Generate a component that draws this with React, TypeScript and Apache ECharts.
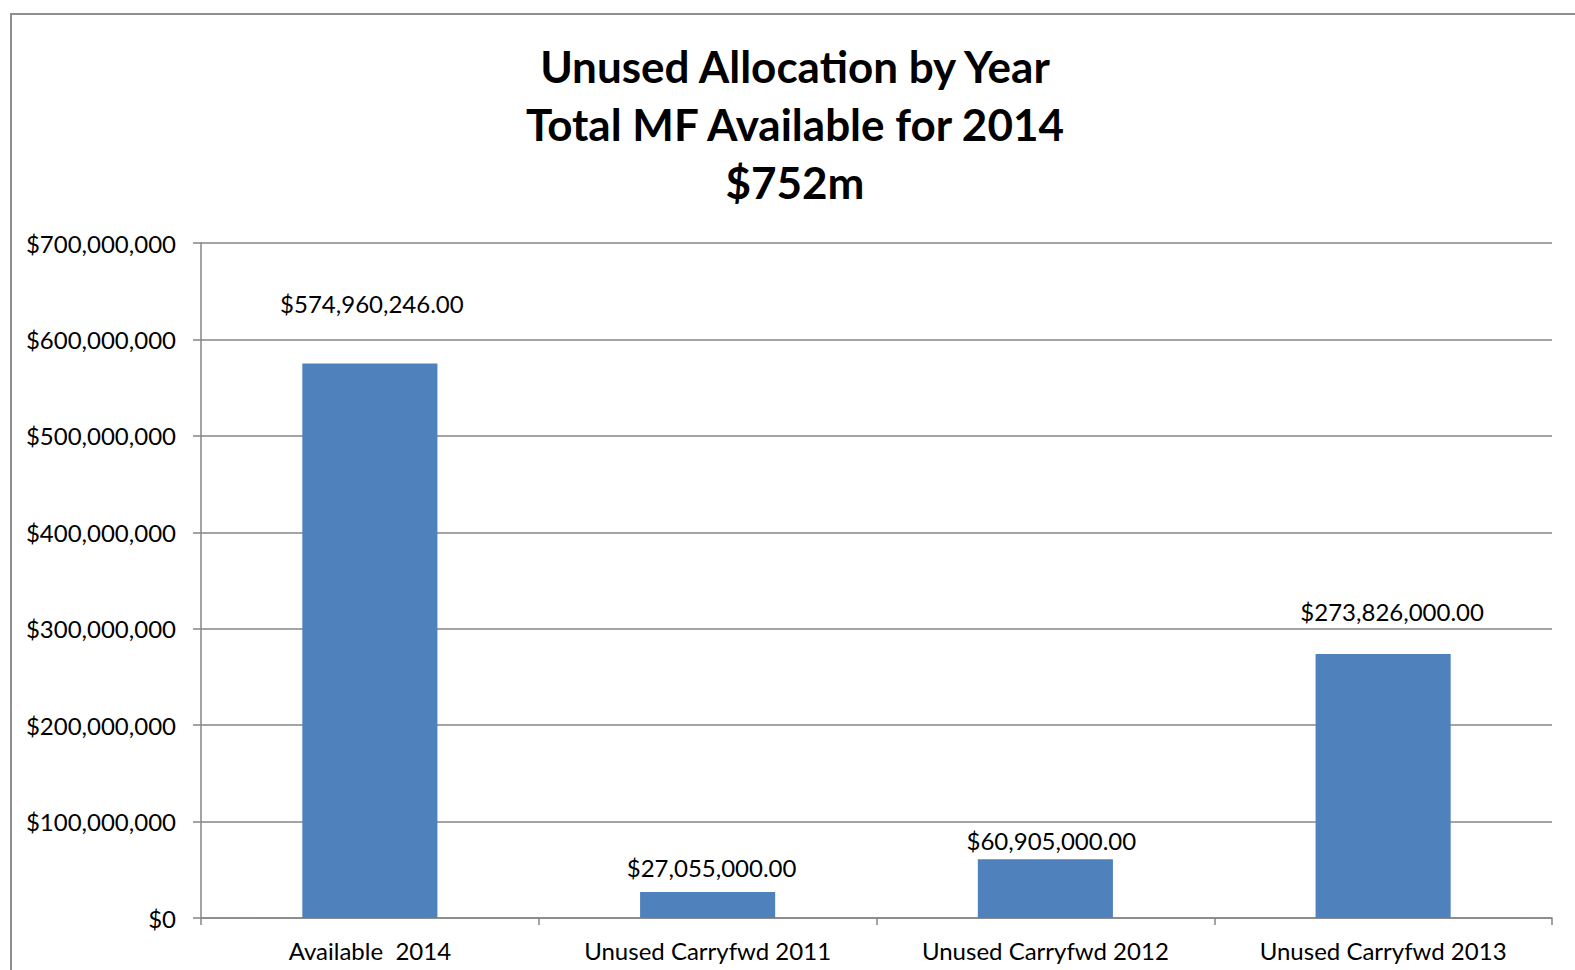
import React, { useEffect, useRef } from "react";
import * as echarts from "echarts";

const categories = ["Available  2014", "Unused Carryfwd 2011", "Unused Carryfwd 2012", "Unused Carryfwd 2013"];
const values = [574960246, 27055000, 60905000, 273826000];
const titleLines = ["Unused Allocation by Year", "Total MF Available for 2014", "$752m"];
const yMin = 0;
const yMax = 700000000;
const yInterval = 100000000;
// label placement tweaks (style, not data)
const labelDistances = [48, 12, 7, 30];
const labelOffsetsX = [2, 4, 6, 9];

const FONT = "Lato, 'Open Sans', sans-serif";

function fmtAxis(v: number): string {
  return "$" + Math.round(v).toLocaleString("en-US");
}
function fmtLabel(v: number): string {
  return "$" + v.toLocaleString("en-US", { minimumFractionDigits: 2, maximumFractionDigits: 2 });
}

export default function App() {
  const ref = useRef<HTMLDivElement>(null);
  useEffect(() => {
    if (!ref.current) return;
    const chart = echarts.init(ref.current, undefined, { renderer: "svg" });
    chart.setOption({
      animation: false,
      backgroundColor: "#ffffff",
      graphic: [
        {
          type: "rect",
          shape: { x: 11, y: 14, width: 1620, height: 1020 },
          style: { fill: "none", stroke: "#8e8e8e", lineWidth: 2 },
          silent: true,
        },
        {
          type: "text",
          x: 795,
          y: 37,
          style: {
            text: titleLines.join("\n"),
            font: `bold 44px ${FONT}`,
            fill: "#000000",
            align: "center",
            verticalAlign: "top",
            lineHeight: 58,
          },
        },
      ],
      grid: { left: 201, right: 23, top: 243, bottom: 52, containLabel: false },
      xAxis: {
        type: "category",
        data: categories,
        axisLine: { show: true, lineStyle: { color: "#868686", width: 1.5 } },
        axisTick: { show: true, length: 7, lineStyle: { color: "#868686", width: 1.5 } },
        axisLabel: { color: "#000000", fontSize: 24, fontFamily: FONT, margin: 20, interval: 0 },
        splitLine: { show: false },
      },
      yAxis: {
        type: "value",
        min: yMin,
        max: yMax,
        interval: yInterval,
        axisLine: { show: true, lineStyle: { color: "#868686", width: 1.5 } },
        axisTick: { show: true, length: 8, lineStyle: { color: "#868686", width: 1.5 } },
        axisLabel: { color: "#000000", fontSize: 24, fontFamily: FONT, margin: 25, formatter: fmtAxis },
        splitLine: { show: true, lineStyle: { color: "#868686", width: 1.5 } },
      },
      series: [
        {
          type: "bar",
          data: values.map((v, i) => ({
            value: v,
            label: { distance: labelDistances[i], offset: [labelOffsetsX[i], 0] },
          })),
          barWidth: "40%",
          itemStyle: { color: "#4f81bd" },
          label: {
            show: true,
            position: "top",
            color: "#000000",
            fontSize: 24,
            fontFamily: FONT,
            formatter: (p: any) => fmtLabel(p.value),
          },
        },
      ],
    });
    return () => chart.dispose();
  }, []);
  return (
    <div
      ref={ref}
      style={{ position: "fixed", left: 0, top: 0, width: 1575, height: 970 }}
    />
  );
}
